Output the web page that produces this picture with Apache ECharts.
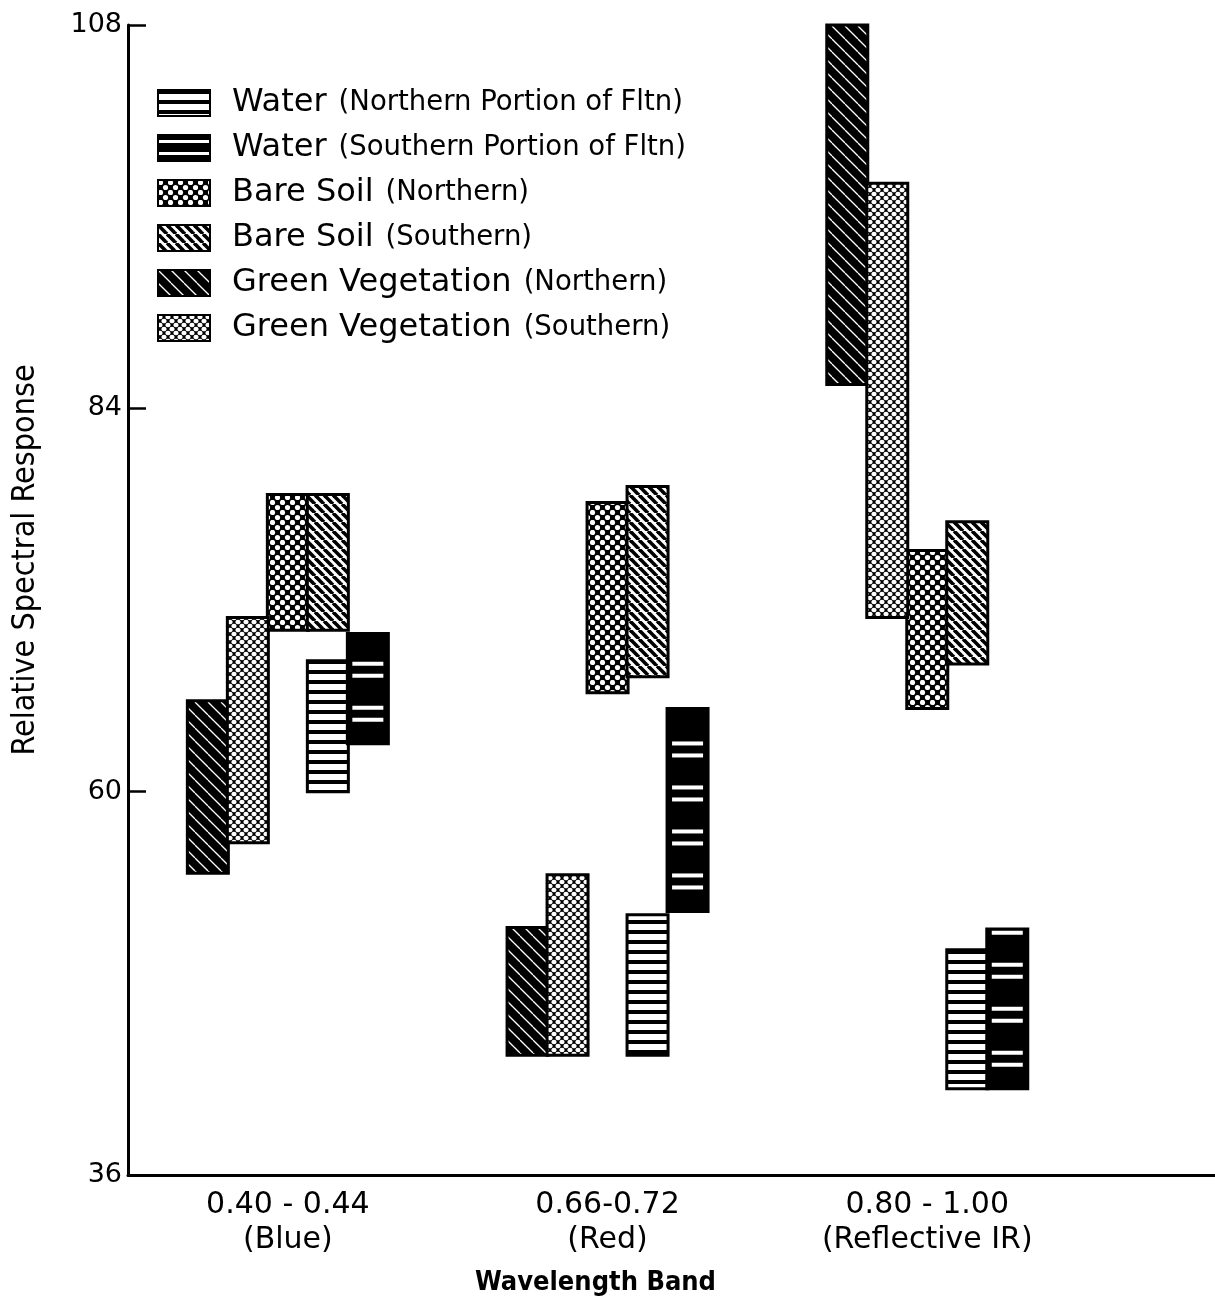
<!DOCTYPE html>
<html>
<head>
<meta charset="utf-8">
<script src="https://cdn.jsdelivr.net/npm/echarts@6/dist/echarts.min.js"></script>
<style>
html,body{margin:0;padding:0;background:#fff;}
#chart{width:1215px;height:1304px;}
</style>
</head>
<body>
<div id="chart"></div>
<script>
// ---------- data ----------
const categories = ['0.40 - 0.44\n(Blue)', '0.66-0.72\n(Red)', '0.80 - 1.00\n(Reflective IR)'];
const seriesNames = [
  'Water (Northern Portion of Fltn)',
  'Water (Southern Portion of Fltn)',
  'Bare Soil (Northern)',
  'Bare Soil (Southern)',
  'Green Vegetation (Northern)',
  'Green Vegetation (Southern)'
];
const waterNorthLow  = [60.0, 43.5, 41.4];
const waterNorthHigh = [68.2, 52.3, 50.1];
const waterSouthLow  = [63.0, 52.5, 41.4];
const waterSouthHigh = [69.9, 65.2, 51.4];
const soilNorthLow   = [70.1, 66.2, 65.2];
const soilNorthHigh  = [78.6, 78.1, 75.1];
const soilSouthLow   = [70.1, 67.2, 68.0];
const soilSouthHigh  = [78.6, 79.1, 76.9];
const vegNorthLow    = [54.9, 43.5, 85.5];
const vegNorthHigh   = [65.7, 51.5, 108.0];
const vegSouthLow    = [56.8, 43.5, 70.9];
const vegSouthHigh   = [70.9, 54.8, 98.1];
const yTicks = [36, 60, 84, 108];

const lows  = [waterNorthLow, waterSouthLow, soilNorthLow, soilSouthLow, vegNorthLow, vegSouthLow];
const highs = [waterNorthHigh, waterSouthHigh, soilNorthHigh, soilSouthHigh, vegNorthHigh, vegSouthHigh];

// ---------- patterns ----------
function makeCanvas(w, h, draw) {
  const c = document.createElement('canvas');
  c.width = w; c.height = h;
  const g = c.getContext('2d');
  draw(g, w, h);
  return { image: c, repeat: 'repeat' };
}
const patHStripes = makeCanvas(10, 10, (g, w, h) => {
  g.fillStyle = '#fff'; g.fillRect(0, 0, w, h);
  g.fillStyle = '#000'; g.fillRect(0, 0, w, 4);
});
const patBlackPairs = makeCanvas(6, 12, (g, w, h) => {
  g.fillStyle = '#000'; g.fillRect(0, 0, w, h);
  g.fillStyle = '#fff'; g.fillRect(0, 5, w, 3);
});
const patCross = makeCanvas(10, 10, (g, w, h) => {
  g.fillStyle = '#000'; g.fillRect(0, 0, w, h);
  g.fillStyle = '#fff';
  [[2.5, 2.5], [7.5, 7.5]].forEach(([x, y]) => { g.beginPath(); g.arc(x, y, 2.6, 0, Math.PI * 2); g.fill(); });
});
function diag(g, w, h, color, lw) {
  g.strokeStyle = color; g.lineWidth = lw;
  for (let k = -1; k <= 1; k++) {
    g.beginPath(); g.moveTo(k * w, 0); g.lineTo(k * w + w, h); g.stroke();
  }
}
const patDiag = makeCanvas(9, 9, (g, w, h) => {
  g.fillStyle = '#fff'; g.fillRect(0, 0, w, h);
  diag(g, w, h, '#000', 3.6);
});
const patDarkDiag = makeCanvas(13, 13, (g, w, h) => {
  g.fillStyle = '#000'; g.fillRect(0, 0, w, h);
  diag(g, w, h, '#fff', 1.3);
});
const patDots = makeCanvas(8, 8, (g, w, h) => {
  g.fillStyle = '#000'; g.fillRect(0, 0, w, h);
  g.fillStyle = '#fff';
  [[2, 2], [6, 6], [-2, 6], [6, -2], [10, 6], [6, 10], [2, 10], [10, 2], [-2, -2], [10, 10], [-2, 2], [2, -2]].forEach(([x, y]) => {
    g.beginPath(); g.ellipse(x, y, 2.6, 2.2, 0, 0, Math.PI * 2); g.fill();
  });
});

// style per series: fill, horizontal slot offset (px)
const seriesLook = [
  { fill: patHStripes, slot: 40 },
  { fill: '#000', legendFill: patBlackPairs, slot: 80, pairs: true },
  { fill: patCross, slot: 0 },
  { fill: patDiag, slot: 40 },
  { fill: patDarkDiag, slot: -80 },
  { fill: patDots, slot: -40 }
];
const BAR_W = 41;

function renderItem(params, api) {
  const cat = api.value(0), lo = api.value(1), hi = api.value(2);
  const s = seriesLook[params.seriesIndex];
  const pTop = api.coord([cat + 0.5, hi]);
  const pBot = api.coord([cat + 0.5, lo]);
  const x = pTop[0] + s.slot - BAR_W / 2;
  const y = pTop[1], h = pBot[1] - pTop[1];
  const children = [{
    type: 'rect', shape: { x: x, y: y, width: BAR_W, height: h },
    style: { fill: s.fill, stroke: '#000', lineWidth: 3 }
  }];
  if (s.pairs) {
    for (let d = 24; d < h - 3; d += 44) {
      [d, d + 12].forEach(dd => {
        if (dd < h - 3) children.push({
          type: 'rect', shape: { x: x + 5, y: y + h - dd - 2, width: BAR_W - 10, height: 4 },
          style: { fill: '#fff' }
        });
      });
    }
  }
  return { type: 'group', children: children };
}

const series = seriesNames.map((name, si) => ({
  name: name,
  type: 'custom',
  renderItem: renderItem,
  encode: { x: 0, y: [1, 2] },
  itemStyle: { color: seriesLook[si].legendFill || seriesLook[si].fill, borderColor: '#000', borderWidth: 3 },
  data: categories.map((c, i) => [i, lows[si][i], highs[si][i]])
}));

const chart = echarts.init(document.getElementById('chart'), null, { renderer: 'canvas' });
chart.setOption({
  backgroundColor: '#fff',
  animation: false,
  grid: { left: 128, right: 0, top: 25, bottom: 129 },
  legend: {
    orient: 'vertical',
    left: 157,
    top: 87,
    padding: 0,
    icon: 'rect',
    itemWidth: 52,
    itemHeight: 26,
    itemGap: 13,
    data: seriesNames,
    selectedMode: false,
    formatter: function (name) {
      const i = name.indexOf('(');
      return '{a|' + name.slice(0, i).trim() + '}{b|' + name.slice(i) + '}';
    },
    textStyle: {
      color: '#000', fontSize: 27, fontFamily: 'DejaVu Sans', lineHeight: 26,
      rich: {
        a: { fontSize: 32, fontFamily: 'DejaVu Sans', color: '#000', padding: [0, 0, 0, 17], lineHeight: 26 },
        b: { fontSize: 27.5, fontFamily: 'DejaVu Sans', color: '#000', padding: [0, 0, 0, 12], lineHeight: 26 }
      }
    }
  },
  xAxis: {
    type: 'value',
    min: 0,
    max: 3.4,
    name: 'Wavelength Band',
    nameLocation: 'middle',
    nameGap: 94,
    nameTextStyle: {
      fontSize: 27, fontFamily: '"Liberation Sans Narrow", "DejaVu Sans Condensed", sans-serif',
      color: '#000', fontWeight: 'bold', padding: [0, 152, 0, 0]
    },
    axisLine: { lineStyle: { color: '#000', width: 3 } },
    axisTick: { show: false },
    splitLine: { show: false },
    axisLabel: {
      customValues: [0.5, 1.5, 2.5],
      formatter: function (v) { return categories[Math.round(v - 0.5)]; },
      color: '#000', fontSize: 30, lineHeight: 35, margin: 13,
      fontFamily: 'DejaVu Sans'
    }
  },
  yAxis: {
    type: 'value',
    min: 36,
    max: 108,
    name: 'Relative Spectral Response',
    nameLocation: 'middle',
    nameGap: 86,
    nameTextStyle: {
      fontSize: 32, fontFamily: '"Liberation Sans Narrow", "DejaVu Sans Condensed", sans-serif',
      color: '#000', padding: [0, 0, 0, 80]
    },
    axisLine: { show: true, lineStyle: { color: '#000', width: 3 } },
    axisTick: { show: true, inside: true, length: 18, customValues: yTicks, lineStyle: { color: '#000', width: 2.5 } },
    splitLine: { show: false },
    axisLabel: { customValues: yTicks, color: '#000', fontSize: 27, fontFamily: 'DejaVu Sans', margin: 6 }
  },
  series: series
});
</script>
</body>
</html>
